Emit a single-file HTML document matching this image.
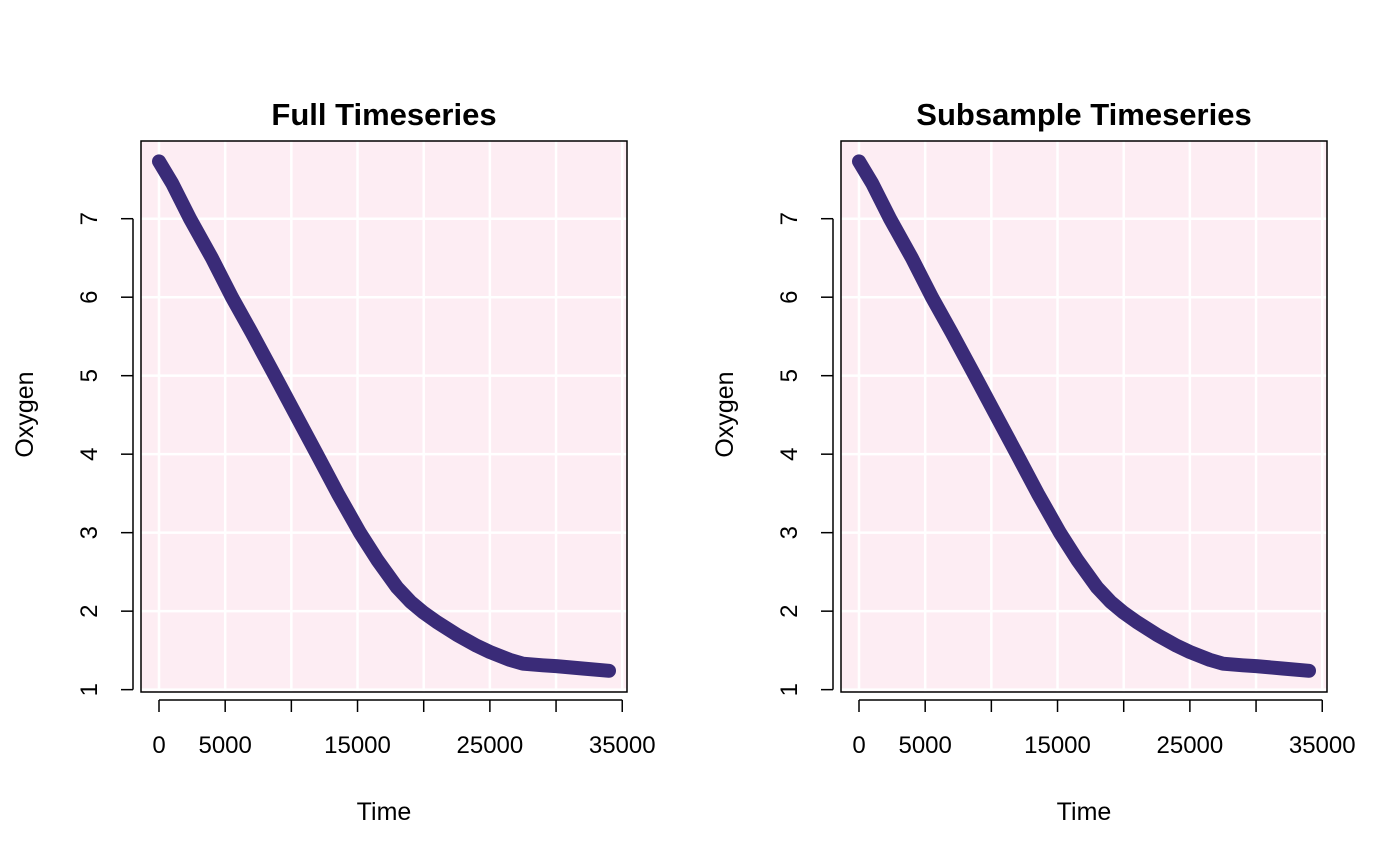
<!DOCTYPE html>
<html><head><meta charset="utf-8"><style>
body{margin:0;background:#fff;}
svg{display:block;font-family:"Liberation Sans",Arial,sans-serif;}
</style></head><body>
<svg id="chart" width="1400" height="865"></svg>
<script>
const timeValues=[0,1000,2340,4000,5510,7000,8760,10500,11930,13500,15180,16500,18000,19000,20000,21000,22500,24000,25000,26500,27500,29000,30000,32000,34000];
const oxygenValues=[7.73,7.45,7.0,6.5,6.0,5.55,5.0,4.45,4.0,3.5,3.0,2.65,2.3,2.12,1.98,1.86,1.7,1.56,1.48,1.38,1.33,1.31,1.30,1.27,1.24];
const xTicks=[0,5000,10000,15000,20000,25000,30000,35000];
const xTickLabels=["0","5000","","15000","","25000","","35000"];
const yTicks=[1,2,3,4,5,6,7];
const panelTitles=["Full Timeseries","Subsample Timeseries"];
const NS="http://www.w3.org/2000/svg";
const svg=document.getElementById('chart');
function mk(tag,attrs,parent){const e=document.createElementNS(NS,tag);for(const k in attrs)e.setAttribute(k,attrs[k]);(parent||svg).appendChild(e);return e;}
const xmin=-1360,xmax=35360,ymin=0.97,ymax=7.99;
panelTitles.forEach((title,p)=>{
  const off=p*700,L=141+off,R=627+off,T=141,B=692;
  const sx=v=>L+(v-xmin)/(xmax-xmin)*(R-L);
  const sy=v=>B-(v-ymin)/(ymax-ymin)*(B-T);
  const g=mk('g',{});
  
  
  const bg=mk('rect',{x:L,y:T,width:R-L,height:B-T,fill:'#fdedf3'},g);
  
  
  xTicks.forEach(t=>{const l=mk('line',{x1:sx(t),x2:sx(t),y1:T,y2:B,stroke:'#fff','stroke-width':2.5},g);
    });
  yTicks.forEach(t=>{const l=mk('line',{x1:L,x2:R,y1:sy(t),y2:sy(t),stroke:'#fff','stroke-width':2.5},g);
    });
  const pts=timeValues.map((t,i)=>sx(t).toFixed(1)+','+sy(oxygenValues[i]).toFixed(1)).join(' ');
  const line=mk('polyline',{points:pts,fill:'none',stroke:'#3a2b78','stroke-width':14,'stroke-linecap':'round','stroke-linejoin':'round'},g);
  
  
  const box=mk('rect',{x:L,y:T,width:R-L,height:B-T,fill:'none',stroke:'#000','stroke-width':1.5},g);
  
  
  const xa=mk('line',{x1:sx(0),x2:sx(35000),y1:B+8,y2:B+8,stroke:'#000','stroke-width':1.5},g);
  
  xTicks.forEach((t,i)=>{
    const tk=mk('line',{x1:sx(t),x2:sx(t),y1:B+8,y2:B+20,stroke:'#000','stroke-width':1.5},g);
    
    if(xTickLabels[i]){const tx=mk('text',{x:sx(t),y:753,'font-size':24,'text-anchor':'middle'},g);tx.textContent=xTickLabels[i];
      }
  });
  const ya=mk('line',{x1:L-8,x2:L-8,y1:sy(1),y2:sy(7),stroke:'#000','stroke-width':1.5},g);
  
  yTicks.forEach(t=>{
    const tk=mk('line',{x1:L-20,x2:L-8,y1:sy(t),y2:sy(t),stroke:'#000','stroke-width':1.5},g);
    
    const tx=mk('text',{x:0,y:0,'font-size':24,'text-anchor':'middle',transform:`translate(${L-44},${sy(t)}) rotate(-90)`},g);
    tx.textContent=t;
    
  });
  const tt=mk('text',{x:(L+R)/2,y:125,'font-size':31,'font-weight':'bold','text-anchor':'middle'},g);
  tt.textContent=title;
  const xl=mk('text',{x:(L+R)/2,y:820,'font-size':25,'text-anchor':'middle'},g);
  xl.textContent='Time';
  const yl=mk('text',{x:0,y:0,'font-size':25,'text-anchor':'middle',transform:`translate(${33+off},${(T+B)/2-2}) rotate(-90)`},g);
  yl.textContent='Oxygen';
});
</script>
</body></html>
